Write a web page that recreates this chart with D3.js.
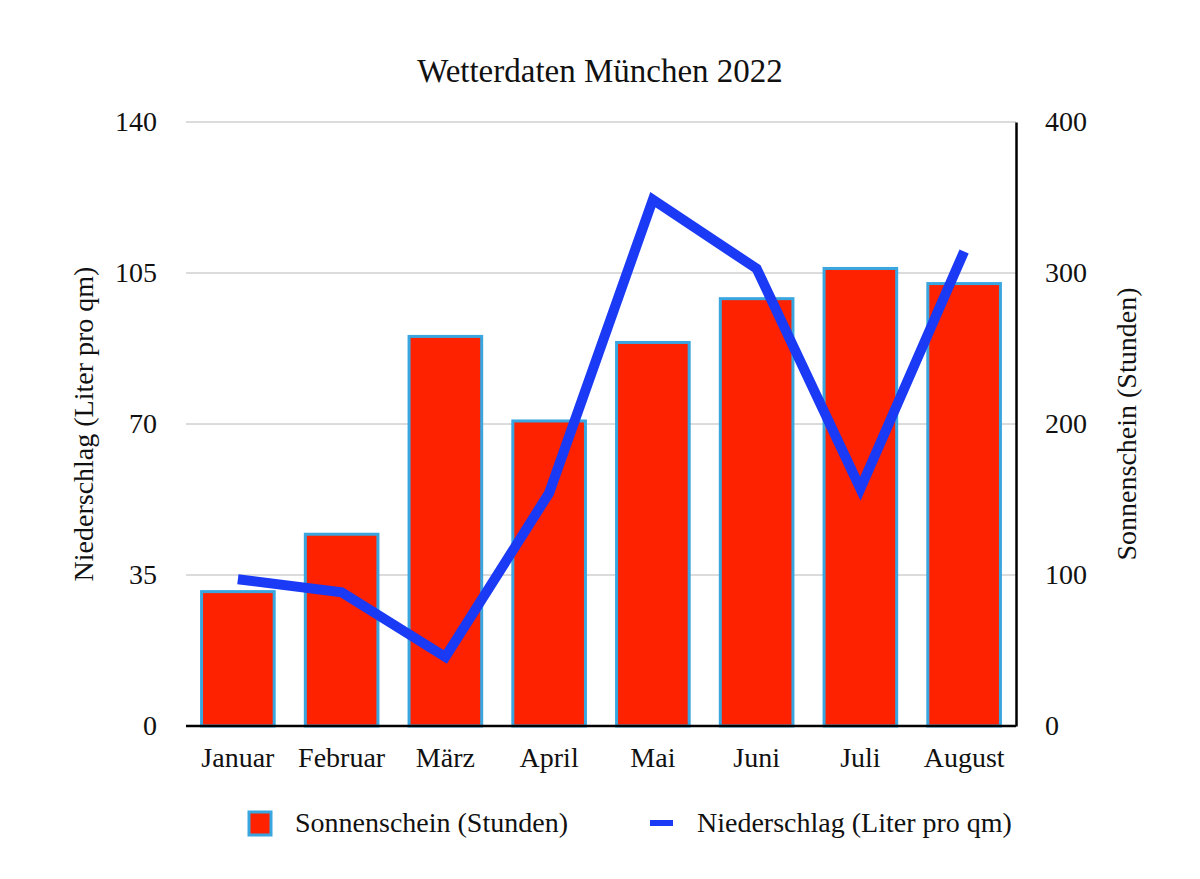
<!DOCTYPE html>
<html>
<head>
<meta charset="utf-8">
<script src="https://cdn.jsdelivr.net/npm/d3@7"></script>
<style>
  html, body { margin: 0; padding: 0; background: #fff; overflow: hidden; }
  svg { display: block; }
  text { font-family: "Liberation Serif", "DejaVu Serif", serif; fill: #111; }
</style>
</head>
<body>
<svg width="1200" height="879"></svg>
<script>
const months = ['Januar', 'Februar', 'März', 'April', 'Mai', 'Juni', 'Juli', 'August'];
const sunHours = [89, 127, 258, 202, 254, 283, 303, 293];
const rainLiters = [34, 31, 16, 54, 122, 106, 55, 110];
const leftTicks = [0, 35, 70, 105, 140];
const rightTicks = [0, 100, 200, 300, 400];

const svg = d3.select('svg');
const width = +svg.attr('width');
const height = +svg.attr('height');
const margin = { top: 122, right: 184, bottom: 153, left: 186 };
const innerWidth = width - margin.left - margin.right;
const innerHeight = height - margin.top - margin.bottom;
const fontSize = '28px';

const xScale = d3.scaleBand()
    .domain(months)
    .range([0, innerWidth])
    .paddingInner(0.3)
    .paddingOuter(0.15);

const yLeft = d3.scaleLinear().domain([0, 140]).range([innerHeight, 0]);
const yRight = d3.scaleLinear().domain([0, 400]).range([innerHeight, 0]);

const g = svg.append('g')
    .attr('transform', `translate(${margin.left}, ${margin.top})`);

// gridlines
g.selectAll('.grid').data(leftTicks.slice(1))
    .enter().append('line')
    .attr('x1', 0).attr('x2', innerWidth)
    .attr('y1', d => yLeft(d)).attr('y2', d => yLeft(d))
    .attr('stroke', '#b8b8b8').attr('stroke-width', 1);

// left axis (labels only)
const leftAxis = g.append('g')
    .call(d3.axisLeft(yLeft).tickValues(leftTicks).tickSize(0).tickPadding(29));
leftAxis.select('.domain').remove();
leftAxis.selectAll('text').style('font-size', fontSize).attr('font-family', null);

// right axis
const rightAxis = g.append('g')
    .attr('transform', `translate(${innerWidth}, 0)`)
    .call(d3.axisRight(yRight).tickValues(rightTicks).tickSize(0).tickPadding(29));
rightAxis.select('.domain').attr('stroke', '#000').attr('stroke-width', 2.5);
rightAxis.selectAll('text').style('font-size', fontSize).attr('font-family', null);

// bars
g.selectAll('rect.bar').data(sunHours)
    .enter().append('rect')
    .attr('class', 'bar')
    .attr('x', (d, i) => xScale(months[i]))
    .attr('y', d => yRight(d))
    .attr('width', xScale.bandwidth())
    .attr('height', d => innerHeight - yRight(d))
    .attr('fill', '#ff2200')
    .attr('stroke', '#3aa6e0')
    .attr('stroke-width', 3);

// bottom axis
const bottomAxis = g.append('g')
    .attr('transform', `translate(0, ${innerHeight})`)
    .call(d3.axisBottom(xScale).tickSize(0).tickPadding(21));
bottomAxis.select('.domain').attr('stroke', '#000').attr('stroke-width', 2.5)
    .attr('d', `M0,0H${innerWidth}`);
bottomAxis.selectAll('text').style('font-size', fontSize).attr('font-family', null);

// line
const line = d3.line()
    .x((d, i) => xScale(months[i]) + xScale.bandwidth() / 2)
    .y(d => yLeft(d));

g.append('path')
    .datum(rainLiters)
    .attr('d', line)
    .attr('fill', 'none')
    .attr('stroke', '#1a3af5')
    .attr('stroke-width', 10);

// title
svg.append('text')
    .attr('x', 600).attr('y', 82)
    .attr('text-anchor', 'middle')
    .style('font-size', '33px')
    .text('Wetterdaten München 2022');

// axis titles
svg.append('text')
    .attr('transform', `translate(93, ${margin.top + innerHeight / 2}) rotate(-90)`)
    .attr('text-anchor', 'middle')
    .style('font-size', fontSize)
    .text('Niederschlag (Liter pro qm)');

svg.append('text')
    .attr('transform', `translate(1136, ${margin.top + innerHeight / 2}) rotate(-90)`)
    .attr('text-anchor', 'middle')
    .style('font-size', fontSize)
    .text('Sonnenschein (Stunden)');

// legend
const legend = svg.append('g').attr('transform', 'translate(0, 823)');
legend.append('rect')
    .attr('x', 249).attr('y', -11).attr('width', 22).attr('height', 23)
    .attr('fill', '#ff2200').attr('stroke', '#3aa6e0').attr('stroke-width', 3);
legend.append('text')
    .attr('x', 295).attr('y', 9)
    .style('font-size', fontSize)
    .text('Sonnenschein (Stunden)');
legend.append('line')
    .attr('x1', 650).attr('x2', 673).attr('y1', 0).attr('y2', 0)
    .attr('stroke', '#1a3af5').attr('stroke-width', 6);
legend.append('text')
    .attr('x', 697).attr('y', 9)
    .style('font-size', fontSize)
    .text('Niederschlag (Liter pro qm)');
</script>
</body>
</html>
